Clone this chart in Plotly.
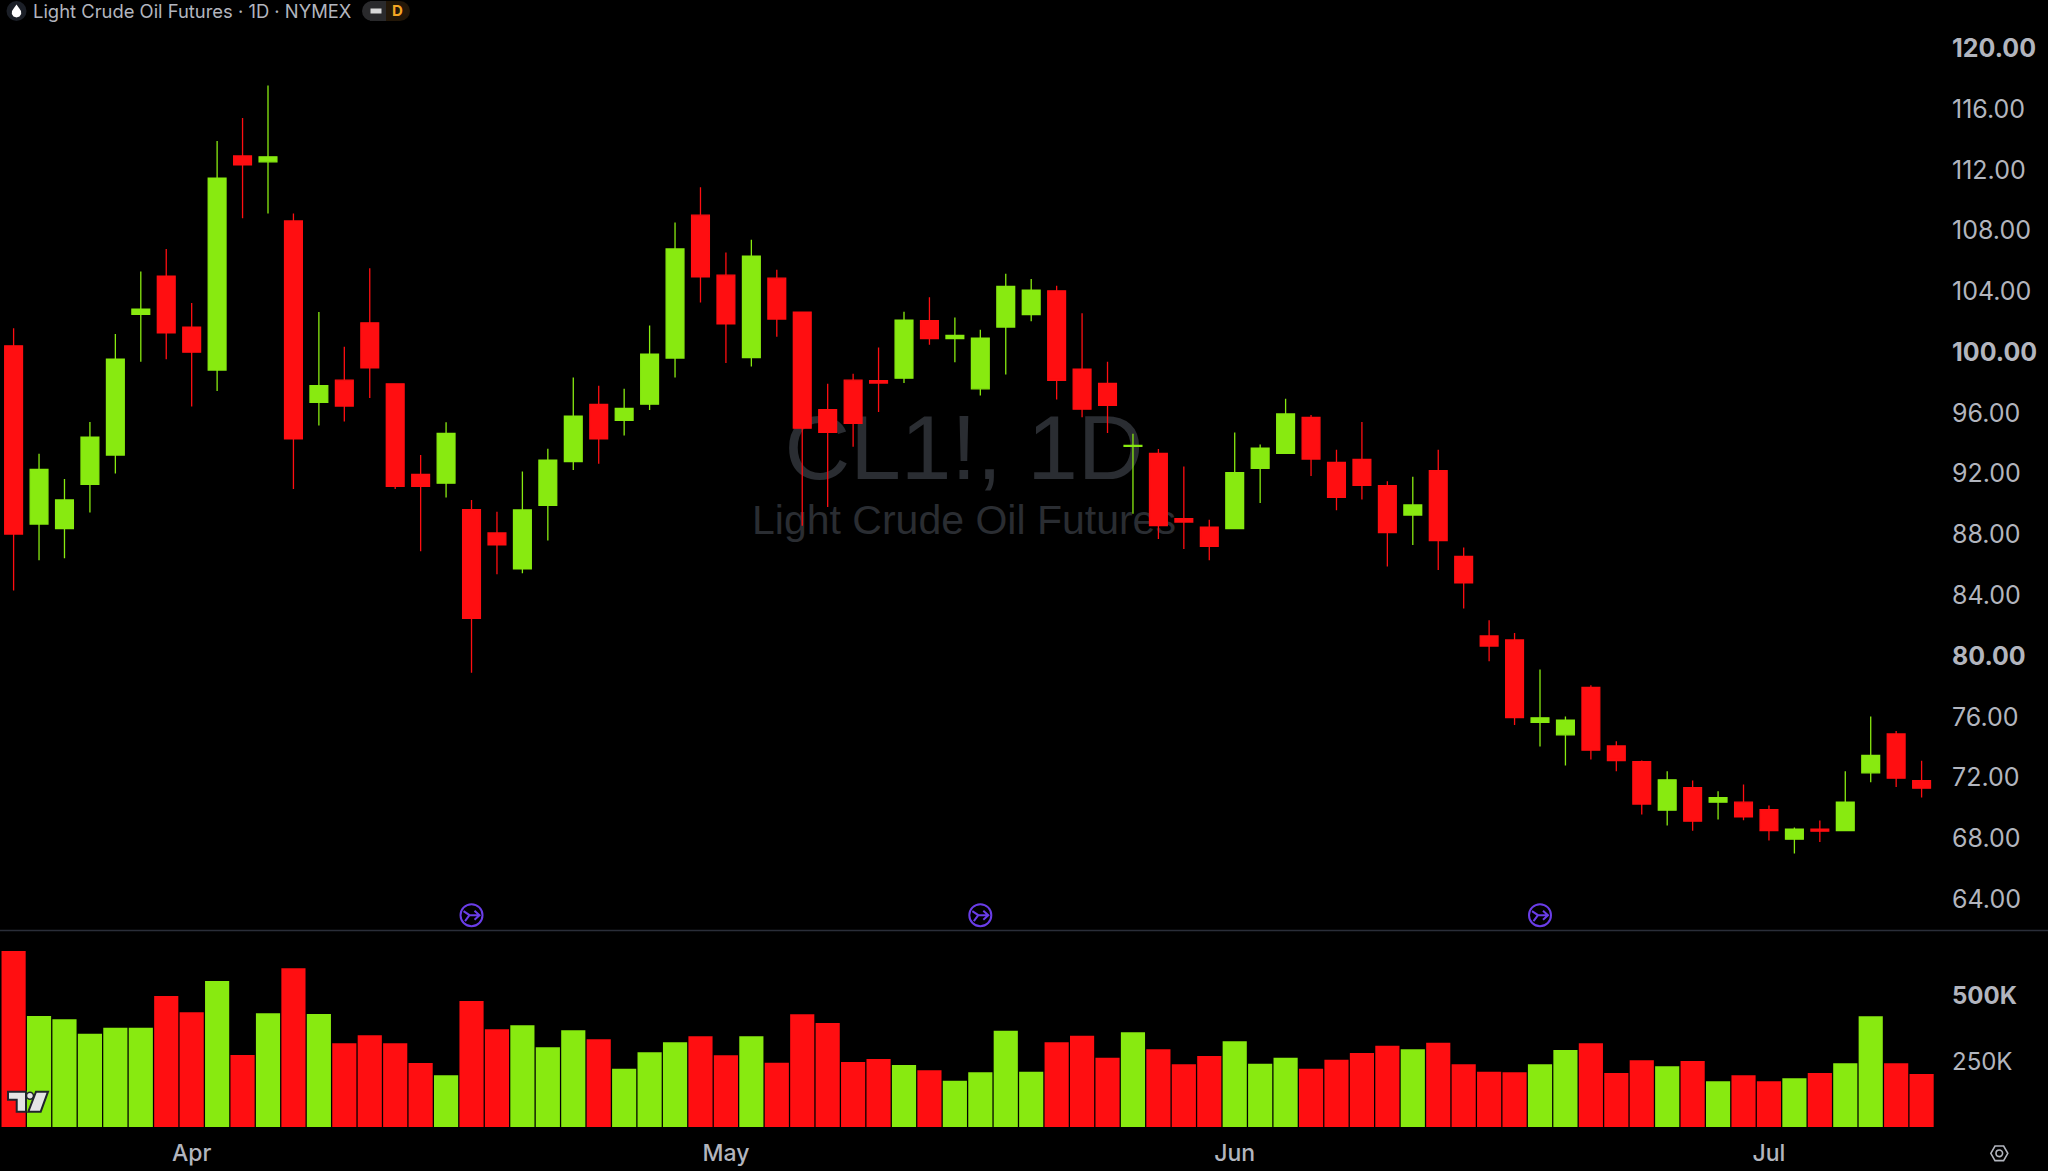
import plotly.graph_objects as go

# Light Crude Oil Futures, daily bars
opens = [100.42, 88.69, 88.38, 91.30, 93.23, 102.49, 105.00, 101.65, 98.82, 112.92,
         112.53, 108.64, 96.69, 98.16, 101.93, 97.92, 91.96, 91.38, 89.63, 88.10,
         85.73, 89.92, 92.79, 96.56, 95.51, 96.58, 99.61, 109.02, 105.07, 99.65,
         104.87, 102.64, 96.21, 98.16, 98.12, 98.29, 102.07, 100.90, 97.59, 101.65,
         102.48, 104.04, 98.89, 97.94, 93.80, 93.34, 89.04, 88.49, 88.38, 92.35,
         93.34, 95.71, 92.75, 92.94, 91.21, 89.28, 92.20, 86.56, 81.32, 81.06,
         75.64, 74.81, 77.94, 74.08, 73.05, 69.85, 71.34, 70.38, 70.38, 69.89,
         67.94, 68.60, 68.51, 72.31, 74.87, 71.80]
highs = [101.58, 93.31, 91.65, 95.40, 101.19, 105.31, 106.80, 103.23, 113.91, 115.42,
         117.55, 109.13, 102.64, 100.35, 105.53, 97.96, 93.23, 95.38, 90.27, 89.50,
         92.15, 93.64, 98.34, 97.79, 97.59, 101.76, 108.53, 110.86, 106.56, 107.40,
         105.42, 102.64, 97.92, 98.58, 100.31, 102.66, 103.62, 102.29, 101.47, 105.16,
         104.81, 104.37, 102.57, 99.37, 94.63, 93.62, 92.48, 88.97, 94.72, 93.93,
         96.93, 95.86, 93.58, 95.40, 91.50, 91.80, 93.58, 87.15, 82.35, 81.52,
         79.11, 76.01, 78.07, 74.39, 73.12, 72.42, 71.80, 71.10, 71.54, 70.16,
         68.71, 69.17, 72.42, 76.01, 75.07, 73.10]
lows = [84.32, 86.30, 86.43, 89.44, 92.02, 99.37, 99.54, 96.43, 97.44, 108.82,
        109.13, 91.00, 95.18, 95.44, 96.98, 91.00, 86.89, 90.44, 78.89, 85.38,
        85.44, 87.61, 92.24, 92.66, 94.52, 96.19, 98.34, 103.27, 99.28, 99.06,
        101.01, 88.58, 89.81, 93.78, 96.06, 97.97, 100.49, 99.33, 97.15, 98.53,
        102.04, 96.89, 95.71, 94.68, 89.37, 87.70, 87.04, 86.30, 88.38, 90.07,
        93.34, 91.85, 89.59, 90.31, 85.90, 87.31, 85.66, 83.12, 79.65, 75.46,
        74.04, 72.79, 73.18, 72.42, 69.57, 68.84, 68.49, 69.24, 69.19, 67.86,
        67.00, 67.75, 68.51, 71.69, 71.37, 70.68]
closes = [88.03, 92.28, 90.27, 94.41, 99.54, 102.83, 101.28, 100.00, 111.45, 112.33,
          112.86, 94.30, 97.79, 96.45, 98.97, 91.17, 91.17, 94.65, 82.48, 87.31,
          89.61, 92.90, 95.79, 94.30, 96.30, 99.87, 106.80, 104.96, 101.87, 106.32,
          102.18, 95.00, 94.72, 95.32, 97.97, 102.11, 100.90, 101.10, 100.93, 104.33,
          104.08, 98.14, 96.25, 96.50, 93.87, 88.58, 88.82, 87.22, 92.07, 93.69,
          95.93, 92.97, 90.44, 91.23, 88.12, 89.94, 87.59, 84.81, 80.66, 75.95,
          75.93, 75.77, 73.80, 73.12, 70.25, 71.85, 69.13, 70.68, 69.41, 68.51,
          68.60, 68.47, 70.38, 73.45, 71.96, 71.30]
volumes = [667700, 421100, 408500, 354100, 376900, 376900, 497000, 435000, 553900, 273200,
           431200, 602000, 428700, 317400, 347800, 317400, 242800, 196000, 478000, 370500,
           385700, 302200, 366700, 332600, 221300, 283300, 321200, 344000, 271900, 344000,
           244100, 427400, 394600, 246600, 258000, 235200, 215000, 175800, 207400, 365500,
           209900, 321200, 346500, 263000, 359100, 294700, 237700, 269400, 325000, 240300,
           263000, 221300, 255500, 280700, 308600, 294700, 320000, 237700, 209900, 207400,
           237700, 292100, 317400, 204900, 252900, 230200, 250400, 173300, 196000, 173300,
           184600, 204900, 241500, 419800, 241500, 201100]

month_pos = [7, 28, 48, 69]
month_names = ["Apr", "May", "Jun", "Jul"]
price_ticks = list(range(64, 124, 4))
bold_prices = [80, 100, 120]
volume_ticks = [250000, 500000]
volume_labels = ["250K", "<b>500K</b>"]
event_bars = [18, 38, 60]

UP = "#88ea10"
DOWN = "#ff0e11"
GREY = "#b2b5be"
PURPLE = "#6a3de8"

W, H = 2048, 1171
PLOT_R = 1945   # right edge of the plot, labels sit beyond it
PLOT_B = 1127   # volume baseline
SEP = 930.5
BAR_PX = 25.44
FIRST_PX = 13.6


def px(x):
    return x / PLOT_R


def py(y):
    return (PLOT_B - y) / PLOT_B


def poly(points, close=True):
    d = "M " + " L ".join(f"{px(a):.5f},{py(b):.5f}" for a, b in points)
    return d + (" Z" if close else "")


x = list(range(len(opens)))
bar_colors = [UP if c > o else DOWN for o, c in zip(opens, closes)]
price_labels = [f"<b>{p:.2f}</b>" if p in bold_prices else f"{p:.2f}" for p in price_ticks]

fig = go.Figure()
fig.add_trace(go.Candlestick(
    x=x, open=opens, high=highs, low=lows, close=closes,
    increasing=dict(line=dict(color=UP, width=1.3), fillcolor=UP),
    decreasing=dict(line=dict(color=DOWN, width=1.3), fillcolor=DOWN),
    whiskerwidth=0, xaxis="x", yaxis="y", showlegend=False,
))
fig.add_trace(go.Bar(
    x=x, y=volumes, marker=dict(color=bar_colors, line=dict(width=0)),
    xaxis="x", yaxis="y2", showlegend=False,
))

shapes = [
    # watermark, behind the candles
    dict(type="rect", xref="paper", yref="paper", layer="below",
         x0=px(664), x1=px(1264), y0=py(498), y1=py(378),
         line=dict(width=0), fillcolor="rgba(0,0,0,0)",
         label=dict(text="CL1!, 1D", textposition="middle center",
                    font=dict(family="Liberation Sans", size=91, color="#2a2d32"))),
    dict(type="rect", xref="paper", yref="paper", layer="below",
         x0=px(664), x1=px(1264), y0=py(546), y1=py(486),
         line=dict(width=0), fillcolor="rgba(0,0,0,0)",
         label=dict(text="Light Crude Oil Futures", textposition="middle center",
                    font=dict(family="Liberation Sans", size=41, color="#2a2d32"))),
    # pane separator
    dict(type="line", xref="paper", yref="paper", x0=0, x1=W / PLOT_R, y0=py(SEP), y1=py(SEP),
         line=dict(color="#2a2e39", width=1.5)),
    # header icons
    dict(type="circle", xref="paper", yref="paper", x0=px(6.5), x1=px(26.5), y0=py(21), y1=py(1),
         fillcolor="#1b1f27", line=dict(width=0)),
    dict(type="path", xref="paper", yref="paper", fillcolor="#ffffff", line=dict(width=0),
         path=poly([(16.5, 4.5), (19, 8), (21, 11), (21.2, 14), (19.5, 16.5), (16.5, 17.5),
                    (13.5, 16.5), (11.8, 14), (12, 11), (14, 8)])),
    dict(type="rect", xref="paper", yref="paper", x0=px(370), x1=px(386), y0=py(21), y1=py(1),
         fillcolor="#2a2a2c", line=dict(width=0)),
    dict(type="circle", xref="paper", yref="paper", x0=px(362), x1=px(382), y0=py(21), y1=py(1),
         fillcolor="#2a2a2c", line=dict(width=0)),
    dict(type="rect", xref="paper", yref="paper", x0=px(386), x1=px(400), y0=py(21), y1=py(1),
         fillcolor="#231708", line=dict(width=0)),
    dict(type="circle", xref="paper", yref="paper", x0=px(390), x1=px(410), y0=py(21), y1=py(1),
         fillcolor="#231708", line=dict(width=0)),
    dict(type="rect", xref="paper", yref="paper", x0=px(370.5), x1=px(381.5), y0=py(13.5), y1=py(8.5),
         fillcolor="#d8d8d8", line=dict(width=0)),
    # settings icon
    dict(type="path", xref="paper", yref="paper", line=dict(color=GREY, width=1.6),
         path=poly([(1990.8, 1153.3), (1995, 1146), (2003.6, 1146), (2007.8, 1153.3),
                    (2003.6, 1160.6), (1995, 1160.6)])),
    dict(type="circle", xref="paper", yref="paper", x0=px(1996), x1=px(2002.6), y0=py(1156.6), y1=py(1150),
         line=dict(color=GREY, width=1.6)),
    # TV logo
    dict(type="path", xref="paper", yref="paper", fillcolor="#e4e4e4", line=dict(color="#20242c", width=2),
         path=poly([(8, 1091.7), (26, 1091.7), (26, 1111.7), (16.7, 1111.7), (16.7, 1099.7), (8, 1099.7)])),
    dict(type="circle", xref="paper", yref="paper", x0=px(26.5), x1=px(33.5), y0=py(1099.2), y1=py(1092.2),
         fillcolor="#e4e4e4", line=dict(color="#20242c", width=1.5)),
    dict(type="path", xref="paper", yref="paper", fillcolor="#e4e4e4", line=dict(color="#20242c", width=2),
         path=poly([(36, 1091.7), (48, 1091.7), (40.7, 1111.7), (28.3, 1111.7)])),
]

# event markers, pinned to their bars
EVENT_Y = 120 - (915.7 - 48.4) / 15.2
for bar in event_bars:
    shapes.append(dict(type="circle", xref="x", yref="y", xsizemode="pixel", ysizemode="pixel",
                       xanchor=bar, yanchor=EVENT_Y, x0=-11, x1=11, y0=-11, y1=11,
                       line=dict(color=PURPLE, width=2)))
    shapes.append(dict(type="path", xref="x", yref="y", xsizemode="pixel", ysizemode="pixel",
                       xanchor=bar, yanchor=EVENT_Y, line=dict(color=PURPLE, width=2),
                       path="M -8,4 L -2,0 L 8,0 M 3,4.5 L 8,0 L 3,-4.5 M -2,0 L -6.5,-6"))

annotations = [
    dict(text="Light Crude Oil Futures · 1D · NYMEX", xref="paper", yref="paper",
         x=px(31), y=py(11), xanchor="left", yanchor="middle", showarrow=False,
         font=dict(family="Inter", size=18.4, color=GREY)),
    dict(text="<b>D</b>", xref="paper", yref="paper",
         x=px(397), y=py(11), xanchor="center", yanchor="middle", showarrow=False,
         font=dict(family="Inter", size=15, color="#f5a623")),
]

fig.update_layout(
    width=W, height=H,
    margin=dict(l=0, r=W - PLOT_R, t=0, b=H - PLOT_B, pad=0),
    paper_bgcolor="#000000", plot_bgcolor="rgba(0,0,0,0)",
    font=dict(family="Inter", color=GREY),
    boxgap=0.3, boxgroupgap=0, bargap=0.05, showlegend=False, hovermode=False,
    xaxis=dict(
        domain=[0, 1], range=[-FIRST_PX / BAR_PX, (PLOT_R - FIRST_PX) / BAR_PX],
        anchor="y2", rangeslider=dict(visible=False), showgrid=False, zeroline=False, showline=False,
        tickmode="array", tickvals=month_pos, ticktext=month_names, ticks="",
        ticklabelstandoff=10, tickfont=dict(family="Inter", size=23, color=GREY, weight=500),
    ),
    yaxis=dict(
        domain=[py(SEP) + 0.0005, 1], range=[120 - (SEP - 48.4) / 15.2, 120 + 48.4 / 15.2],
        side="right", anchor="x", showgrid=False, zeroline=False, showline=False, ticks="",
        tickmode="array", tickvals=price_ticks, ticktext=price_labels,
        ticklabelstandoff=6, tickfont=dict(family="Inter", size=25, color=GREY),
    ),
    yaxis2=dict(
        domain=[0, py(SEP)], range=[0, (PLOT_B - SEP) / 65.9 * 250000],
        side="right", anchor="x", showgrid=False, zeroline=False, showline=False, ticks="",
        tickmode="array", tickvals=volume_ticks, ticktext=volume_labels,
        ticklabelstandoff=6, tickfont=dict(family="Inter", size=24, color=GREY),
    ),
    shapes=shapes,
    annotations=annotations,
)

fig.write_html("out.html", config={"displayModeBar": False},
               post_script="document.body.style.margin='0';")
